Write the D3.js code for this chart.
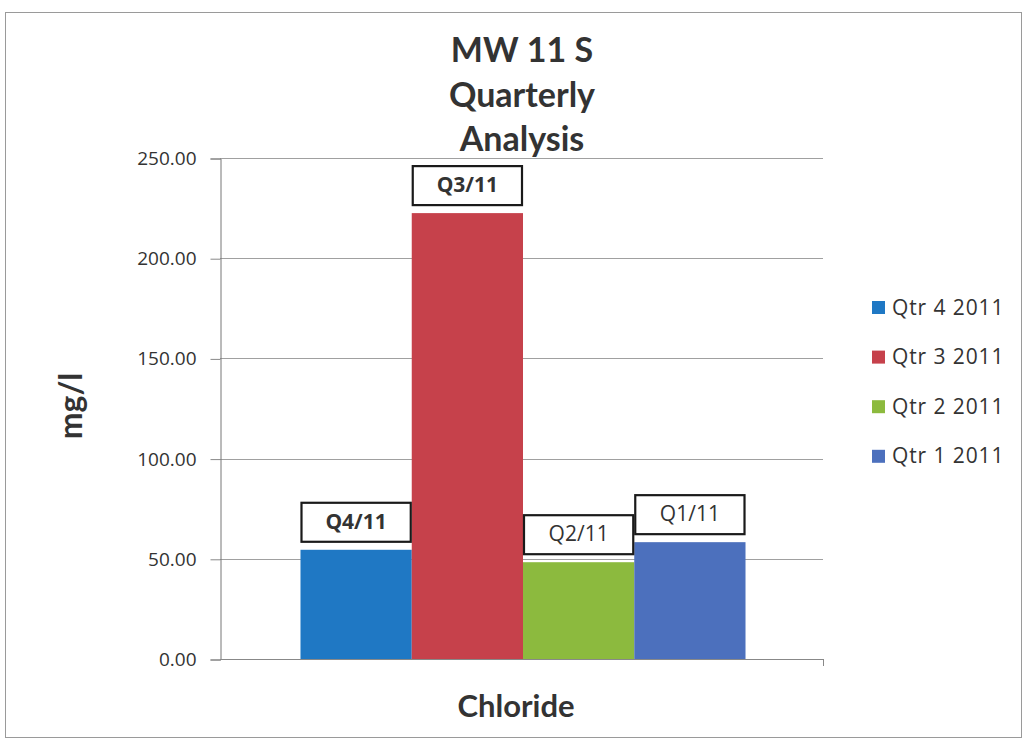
<!DOCTYPE html>
<html>
<head>
<meta charset="utf-8">
<script src="https://cdn.jsdelivr.net/npm/d3@7"></script>
<style>
  html, body { margin: 0; padding: 0; background: #fff; }
  svg { display: block; }
  text { font-family: "Open Sans", "Noto Sans", sans-serif; fill: #333; }
</style>
</head>
<body>
<svg id="chart" width="1027" height="742"></svg>
<script>
// Chloride results per quarter (mg/l)
const series = ["Qtr 4 2011", "Qtr 3 2011", "Qtr 2 2011", "Qtr 1 2011"];
const values = [54.5, 222.5, 48.3, 58.3];
const barLabels = ["Q4/11", "Q3/11", "Q2/11", "Q1/11"];
const labelBold = [true, true, false, false];
const colors = ["#1f78c4", "#c6414b", "#8cba3e", "#4c70bd"];
const category = "Chloride";
const yTicks = [0, 50, 100, 150, 200, 250];
const titleLines = ["MW 11 S", "Quarterly", "Analysis"];

const svg = d3.select("#chart");

// outer frame
svg.append("rect")
  .attr("x", 5.5).attr("y", 12.5).attr("width", 1016).attr("height", 725)
  .attr("fill", "none").attr("stroke", "#9a9a9a").attr("stroke-width", 1);

const plot = { left: 220, right: 823, top: 158, bottom: 659 };

const y = d3.scaleLinear().domain([0, 250]).range([plot.bottom, plot.top]);
const xCat = d3.scaleBand().domain([category]).range([plot.left, plot.right]).paddingInner(0).paddingOuter(0.1775);
const xSeries = d3.scaleBand().domain(series).range([0, xCat.bandwidth()]).padding(0);

// gridlines
svg.append("g")
  .selectAll("line")
  .data(yTicks.filter(t => t > 0))
  .join("line")
  .attr("x1", plot.left).attr("x2", plot.right)
  .attr("y1", d => Math.round(y(d)) + 0.5).attr("y2", d => Math.round(y(d)) + 0.5)
  .attr("stroke", "#a0a0a0").attr("stroke-width", 1);

// y axis
const yAxis = d3.axisLeft(y).tickValues(yTicks).tickFormat(d3.format(".2f")).tickSize(10).tickPadding(14);
const gy = svg.append("g").attr("transform", `translate(${plot.left + 0.5},0.5)`).call(yAxis);
gy.select(".domain").attr("stroke", "#777");
gy.selectAll(".tick line").attr("stroke", "#888");
gy.selectAll(".tick text").attr("font-size", 19).attr("fill", "#333")
  .style("font-family", '"Open Sans", sans-serif');

// x baseline
svg.append("line")
  .attr("x1", plot.left).attr("x2", plot.right)
  .attr("y1", plot.bottom + 0.5).attr("y2", plot.bottom + 0.5)
  .attr("stroke", "#888");
svg.append("line")
  .attr("x1", plot.right + 0.5).attr("x2", plot.right + 0.5)
  .attr("y1", plot.bottom).attr("y2", plot.bottom + 7)
  .attr("stroke", "#888");

// bars
const bars = series.map((s, i) => ({ s, v: values[i], label: barLabels[i], bold: labelBold[i], color: colors[i] }));
const gBars = svg.append("g").attr("transform", `translate(${xCat(category) + 1.5},0)`);
gBars.selectAll("rect")
  .data(bars)
  .join("rect")
  .attr("x", d => xSeries(d.s))
  .attr("y", d => y(d.v))
  .attr("width", xSeries.bandwidth())
  .attr("height", d => y(0) - y(d.v))
  .attr("fill", d => d.color);

// boxed data labels above each bar
const boxH = 39, boxGap = 8;
const lab = gBars.selectAll("g.lab")
  .data(bars)
  .join("g")
  .attr("class", "lab")
  .attr("transform", d => `translate(${xSeries(d.s)},${y(d.v) - boxGap - boxH})`);
lab.append("rect")
  .attr("x", 1).attr("y", 0)
  .attr("width", xSeries.bandwidth() - 2).attr("height", boxH)
  .attr("fill", "#fff").attr("stroke", "#1a1a1a").attr("stroke-width", 2.2);
lab.append("text")
  .attr("x", xSeries.bandwidth() / 2).attr("y", boxH / 2 + 1)
  .attr("text-anchor", "middle").attr("dominant-baseline", "middle")
  .attr("font-size", 21)
  .attr("font-weight", d => d.bold ? 700 : 400)
  .attr("fill", "#222")
  .text(d => d.label);

// title
const titleBase = [62, 106.5, 151];
svg.append("g").selectAll("text")
  .data(titleLines)
  .join("text")
  .attr("x", 522).attr("y", (d, i) => titleBase[i])
  .attr("text-anchor", "middle")
  .attr("font-size", 34).attr("font-weight", 700).attr("fill", "#222")
  .style("font-family", 'Lato, "Open Sans", sans-serif')
  .text(d => d);

// y axis title
svg.append("text")
  .attr("transform", "translate(82,406) rotate(-90)")
  .attr("text-anchor", "middle")
  .attr("font-size", 32).attr("font-weight", 700).attr("fill", "#222")
  .style("font-family", 'Lato, "Open Sans", sans-serif')
  .text("mg/l");

// category label
svg.append("text")
  .attr("x", 516).attr("y", 717)
  .attr("text-anchor", "middle")
  .attr("font-size", 31).attr("font-weight", 700).attr("fill", "#222")
  .style("font-family", 'Lato, "Open Sans", sans-serif')
  .text(category);

// legend
const legend = svg.append("g").attr("transform", "translate(872,308)");
const li = legend.selectAll("g")
  .data(bars)
  .join("g")
  .attr("transform", (d, i) => `translate(0,${i * 49.6})`);
li.append("rect")
  .attr("x", 0).attr("y", -7).attr("width", 13).attr("height", 13)
  .attr("fill", d => d.color);
li.append("text")
  .attr("x", 20).attr("y", 1)
  .attr("dominant-baseline", "middle")
  .attr("font-size", 21).attr("letter-spacing", 0.9).attr("fill", "#333")
  .text(d => d.s);
</script>
</body>
</html>
